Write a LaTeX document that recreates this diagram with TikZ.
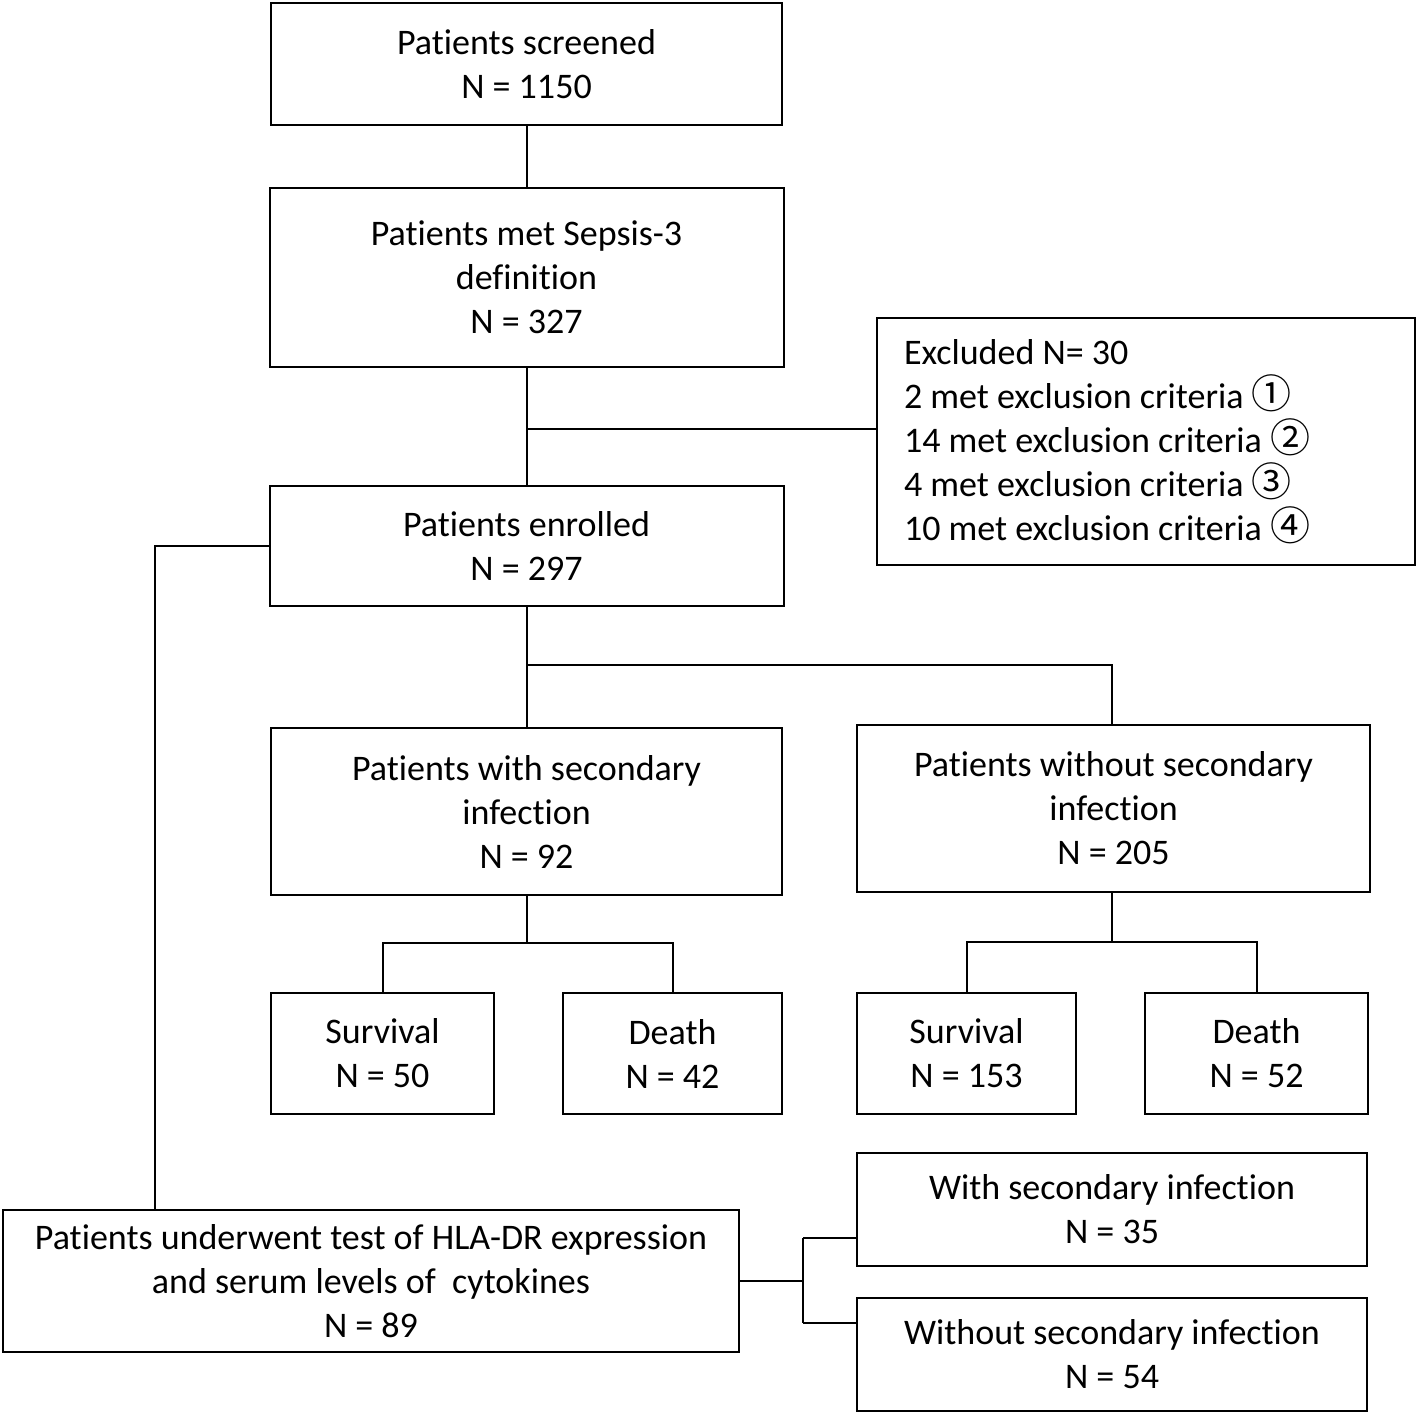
\documentclass[tikz,border=0pt]{standalone}
\usepackage{fontspec}
\setmainfont{Carlito}[RawFeature={-liga;-clig;-calt;-dlig}]
\newfontfamily\circfont{Noto Sans CJK JP}
\newcommand{\crit}[1]{{\circfont\fontsize{40pt}{44pt}\selectfont #1}}
\usepackage{tikz}
\usetikzlibrary{positioning}

\begin{document}
\begin{tikzpicture}
                [x=1pt,y=-1pt,line width=2pt,
                box/.style={draw,align=center,inner sep=0pt,outer sep=0pt,font=\fontsize{36pt}{44pt}\selectfont},
                small/.style={box,minimum width=223pt,minimum height=121pt}]
                \useasboundingbox (0,0) rectangle (1418,1415);
                \node[box,minimum width=511pt,minimum height=122pt] (screened) at (526.5,64) {Patients screened\\N = 1150};
                \node[box,minimum width=514pt,minimum height=179pt,below=63pt of screened] (sepsis) {Patients met Sepsis-3\\definition\\N = 327};
                \node[box,minimum width=514pt,minimum height=120pt,below=119pt of sepsis] (enrolled) {Patients enrolled\\N = 297};
                \node[box,align=flush left,text width=484pt,inner xsep=27pt,minimum height=247pt] (excluded) at (1146,441.5)
                    {Excluded N= 30\\
                     2 met exclusion criteria \crit{①}\\
                     14 met exclusion criteria \crit{②}\\
                     4 met exclusion criteria \crit{③}\\
                     10 met exclusion criteria \crit{④}};
                \node[box,minimum width=511pt,minimum height=167pt] (withsec) at (526.5,811.5) {Patients with secondary\\infection\\N = 92};
                \node[box,minimum width=513pt,minimum height=167pt] (withoutsec) at (1113.5,808.5) {Patients without secondary\\infection\\N = 205};
                \node[small] (surv1) at (382.5,1053.5) {Survival\\N = 50};
                \node[small,minimum width=219pt] (death1) at (672.5,1053.5) {Death\\N = 42};
                \node[small,minimum width=219pt] (surv2) at (966.5,1053.5) {Survival\\N = 153};
                \node[small] (death2) at (1256.5,1053.5) {Death\\N = 52};
                \node[box,minimum width=736pt,minimum height=142pt] (hla) at (371,1281) {Patients underwent test of HLA-DR expression\\and serum levels of~ cytokines\\N = 89};
                \node[box,minimum width=510pt,minimum height=113pt] (with) at (1112,1209.5) {With secondary infection\\N = 35};
                \node[box,minimum width=510pt,minimum height=113pt] (without) at (1112,1354.5) {Without secondary infection\\N = 54};
                \coordinate (exjoin) at (527,429);
                \coordinate (split1) at (527,665);
                \coordinate (split2) at (527,943);
                \coordinate (split3) at (1112,942);
                \coordinate (hlaup) at (155,1210);
                \coordinate (a4) at (803,1238);
                \coordinate (b4) at (803,1323);
                \draw (screened.south) -- (screened.south |- sepsis.north);
                \draw (sepsis.south) -- (sepsis.south |- enrolled.north);
                \draw (exjoin) -- (exjoin -| excluded.west);
                \draw (enrolled.south) -- (enrolled.south |- withsec.north);
                \draw (split1) -| (split3 |- withoutsec.north);
                \draw (split2 |- withsec.south) -- (split2);
                \draw (surv1.north) |- (split2) -| (death1.north);
                \draw (split3 |- withoutsec.south) -- (split3);
                \draw (surv2.north) |- (split3) -| (death2.north);
                \draw (enrolled.west) -| (hlaup);
                \draw (hla.east) -- (hla.east -| a4);
                \draw (a4) -- (b4);
                \draw (a4) -- (a4 -| with.west);
                \draw (b4) -- (b4 -| without.west);
\end{tikzpicture}
\end{document}
